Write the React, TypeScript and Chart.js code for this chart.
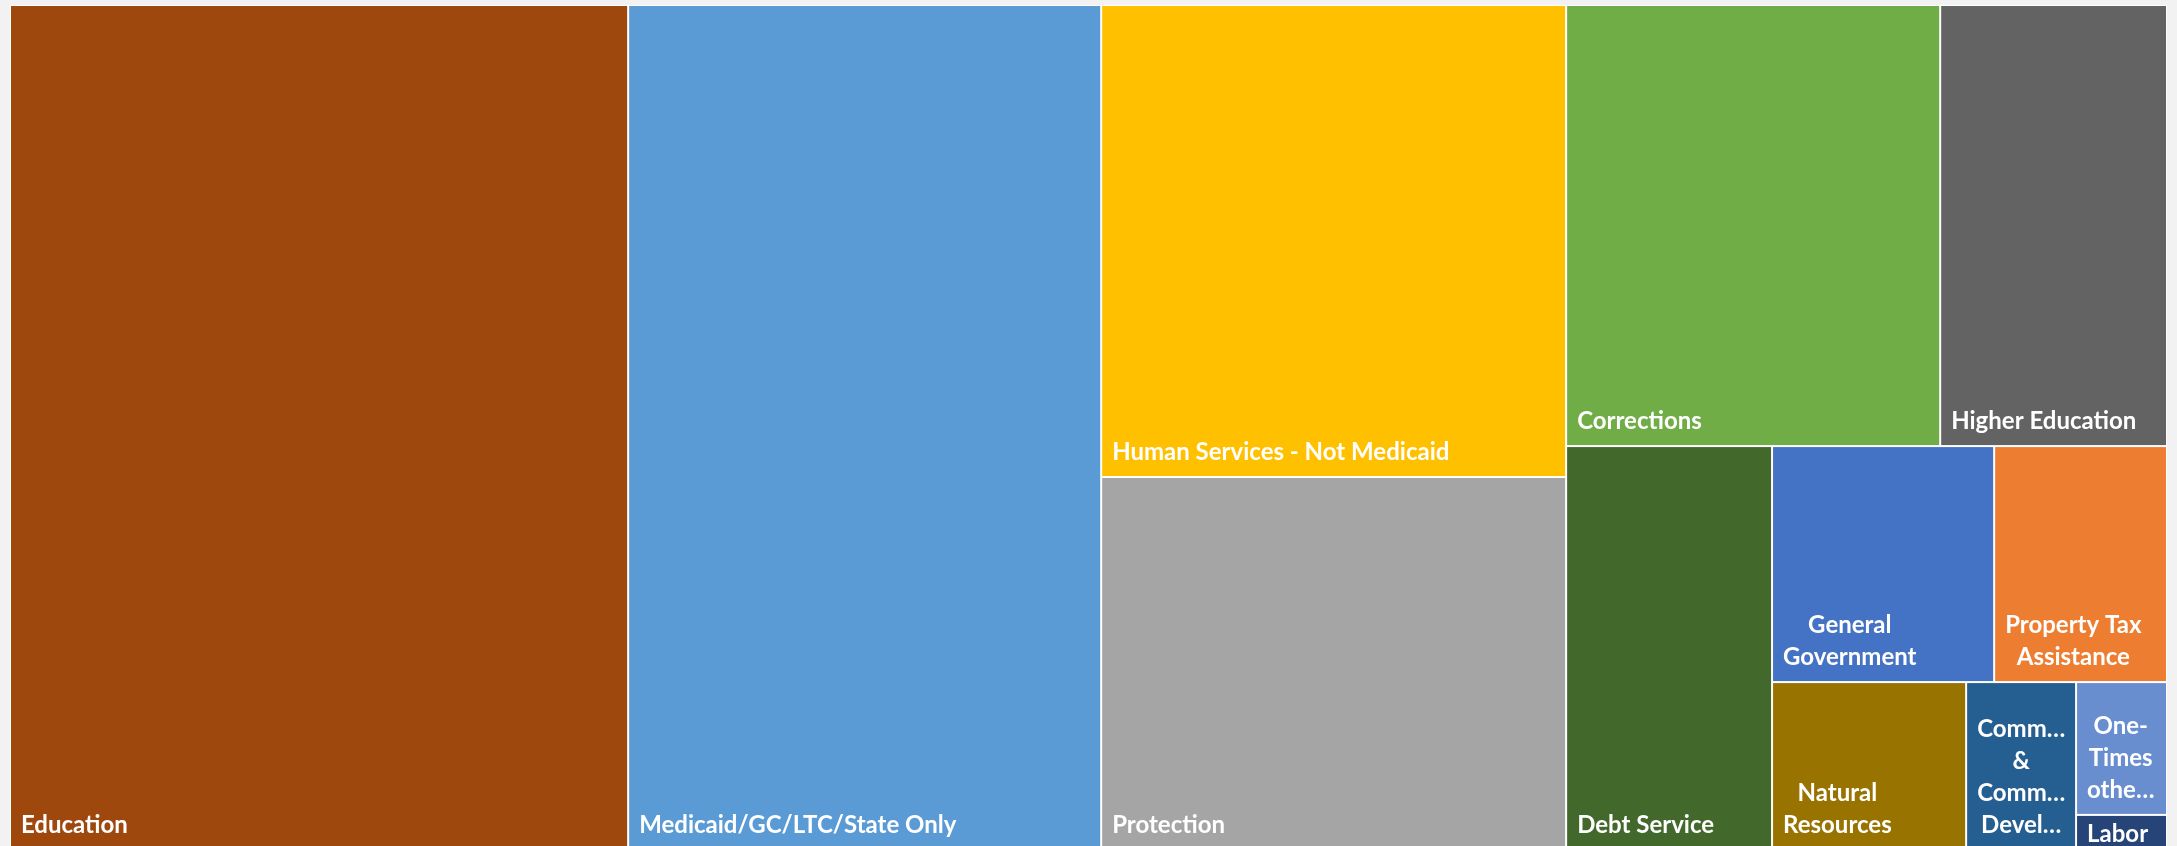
import React, { useEffect, useRef } from "react";
import { Chart, registerables } from "chart.js";

Chart.register(...registerables);

// ---- Data (budget, $ millions) ----
const CATEGORIES = [
  "Education",
  "Medicaid/GC/LTC/State Only",
  "Human Services - Not Medicaid",
  "Protection",
  "Corrections",
  "Higher Education",
  "Debt Service",
  "General Government",
  "Property Tax Assistance",
  "Natural Resources",
  "Community & Community Development",
  "One-Times other items",
  "Labor",
];
const VALUES = [2292, 1754, 963, 761, 724, 439, 365, 230, 179, 143, 81, 53, 14];
const COLORS = [
  "#9E480E",
  "#5B9BD5",
  "#FFC000",
  "#A5A5A5",
  "#70AD47",
  "#636363",
  "#43682B",
  "#4472C4",
  "#ED7D31",
  "#997300",
  "#255E91",
  "#698ED0",
  "#264478",
];

type Rect = { x: number; y: number; w: number; h: number };

function worst(row: number[], side: number): number {
  let s = 0, mx = -Infinity, mn = Infinity;
  for (const a of row) { s += a; if (a > mx) mx = a; if (a < mn) mn = a; }
  const s2 = s * s, side2 = side * side;
  return Math.max((side2 * mx) / s2, s2 / (side2 * mn));
}

function squarify(values: number[], rect: Rect): Rect[] {
  const total = values.reduce((a, b) => a + b, 0);
  const k = (rect.w * rect.h) / total;
  const areas = values.map((v) => v * k);
  const out: Rect[] = [];
  let r = { ...rect };
  let i = 0;
  while (i < areas.length) {
    const side = Math.min(r.w, r.h);
    let row = [areas[i]];
    let j = i + 1;
    while (j < areas.length) {
      const next = [...row, areas[j]];
      if (worst(next, side) <= worst(row, side)) { row = next; j++; } else break;
    }
    const s = row.reduce((a, b) => a + b, 0);
    if (r.w >= r.h) {
      const cw = s / r.h;
      let y = r.y;
      for (const a of row) { const h = a / cw; out.push({ x: r.x, y, w: cw, h }); y += h; }
      r = { x: r.x + cw, y: r.y, w: r.w - cw, h: r.h };
    } else {
      const rh = s / r.w;
      let x = r.x;
      for (const a of row) { const w = a / rh; out.push({ x, y: r.y, w, h: rh }); x += w; }
      r = { x: r.x, y: r.y + rh, w: r.w, h: r.h - rh };
    }
    i = j;
  }
  return out;
}

function truncate(ctx: CanvasRenderingContext2D, text: string, maxW: number): string {
  if (ctx.measureText(text).width <= maxW) return text;
  for (let n = text.length - 1; n >= 1; n--) {
    const t = text.slice(0, n) + "\u2026";
    if (ctx.measureText(t).width <= maxW) return t;
  }
  return "\u2026";
}

function wrap(ctx: CanvasRenderingContext2D, label: string, maxW: number): string[] {
  const tokens: { t: string; sp: boolean }[] = [];
  label.split(" ").forEach((word, wi) => {
    const parts = word.split(/(?<=-)(?=.)/);
    parts.forEach((p, pi) => tokens.push({ t: p, sp: wi > 0 && pi === 0 }));
  });
  const lines: string[] = [];
  let cur = "";
  for (const tk of tokens) {
    if (cur === "") { cur = tk.t; continue; }
    const cand = cur + (tk.sp ? " " : "") + tk.t;
    if (ctx.measureText(cand).width <= maxW) cur = cand;
    else { lines.push(cur); cur = tk.t; }
  }
  if (cur !== "") lines.push(cur);
  return lines.map((l) => truncate(ctx, l, maxW));
}

const treemapPlugin = {
  id: "treemap",
  afterDatasetsDraw(chart: any, _args: any, opts: any) {
    const { ctx } = chart;
    const xs = chart.scales.x;
    const ys = chart.scales.y;
    const x0 = xs.getPixelForValue(0), x1 = xs.getPixelForValue(1);
    const y0 = ys.getPixelForValue(0), y1 = ys.getPixelForValue(1);
    const area: Rect = { x: x0, y: y0, w: x1 - x0, h: y1 - y0 };
    const values: number[] = opts.values;
    const labels: string[] = opts.labels;
    const colors: string[] = opts.colors;
    const rects = squarify(values, area);

    ctx.save();
    ctx.fillStyle = "#FFFFFF";
    ctx.fillRect(area.x, area.y, area.w, area.h);
    rects.forEach((r, i) => {
      ctx.fillStyle = colors[i];
      ctx.fillRect(r.x + 1, r.y + 1, r.w - 2, r.h - 2);
    });

    const padX = 11, padR = 6, padB = 11, padT = 4, lineH = 32, asc = 26;
    ctx.font = "bold 24px Lato";
    ctx.fillStyle = "#FFFFFF";
    ctx.textAlign = "center";
    ctx.textBaseline = "alphabetic";
    rects.forEach((r, i) => {
      const maxW = r.w - padX - padR;
      let lines = wrap(ctx, labels[i], maxW);
      const maxLines = Math.max(1, Math.floor((r.h - padB - padT) / lineH));
      if (lines.length > maxLines) {
        lines = lines.slice(0, maxLines);
        const last = lines[maxLines - 1];
        let t = "\u2026";
        for (let n = last.length - 1; n >= 1; n--) {
          const c = last.slice(0, n) + "\u2026";
          if (ctx.measureText(c).width <= maxW) { t = c; break; }
        }
        lines[maxLines - 1] = t;
      }
      const blockH = lines.length * lineH;
      let topY = r.y + r.h - padB - blockH;
      if (topY < r.y + 1) topY = r.y + 1;
      const widest = Math.max(...lines.map((l) => ctx.measureText(l).width));
      const cx = r.x + padX + widest / 2;
      ctx.save();
      ctx.beginPath();
      ctx.rect(r.x + 1, r.y + 1, r.w - 2, r.h - 2);
      ctx.clip();
      lines.forEach((l, li) => {
        ctx.fillText(l, cx, topY + li * lineH + asc);
      });
      ctx.restore();
    });
    ctx.restore();
  },
};

export default function App() {
  const ref = useRef<HTMLCanvasElement | null>(null);
  useEffect(() => {
    if (!ref.current) return;
    const chart = new Chart(ref.current, {
      type: "scatter",
      data: { datasets: [{ label: "Budget", data: [] }] },
      options: {
        animation: false,
        responsive: false,
        devicePixelRatio: 1,
        layout: { padding: { left: 10, top: 5, right: 10, bottom: 1 } },
        scales: {
          x: { type: "linear", min: 0, max: 1, display: false },
          y: { type: "linear", min: 0, max: 1, reverse: true, display: false },
        },
        plugins: {
          legend: { display: false },
          tooltip: { enabled: false },
          treemap: { values: VALUES, labels: CATEGORIES, colors: COLORS },
        } as any,
      },
      plugins: [treemapPlugin as any],
    });
    return () => chart.destroy();
  }, []);
  return (
    <div
      style={{
        position: "fixed",
        left: 0,
        top: 0,
        width: 2177,
        height: 846,
        overflow: "hidden",
        background: "#F2F2F2",
      }}
    >
      <canvas ref={ref} width={2177} height={851} style={{ display: "block", width: 2177, height: 851 }} />
    </div>
  );
}
